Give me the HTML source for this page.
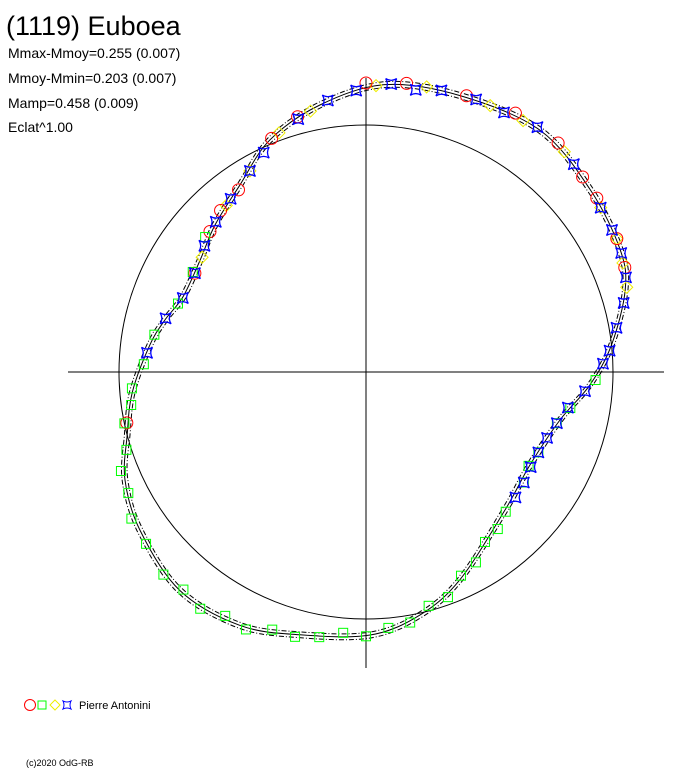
<!DOCTYPE html>
<html><head><meta charset="utf-8"><style>
body{margin:0;background:#fff;width:688px;height:768px;overflow:hidden;font-family:"Liberation Sans",sans-serif}
svg{display:block}
</style></head><body>
<svg id="chart" width="688" height="768" viewBox="0 0 688 768">
<text x="6" y="35" font-size="27" fill="#000">(1119) Euboea</text>
<text x="8" y="58" font-size="14" fill="#000">Mmax-Mmoy=0.255 (0.007)</text>
<text x="8" y="83" font-size="14" fill="#000">Mmoy-Mmin=0.203 (0.007)</text>
<text x="8" y="108" font-size="14" fill="#000">Mamp=0.458 (0.009)</text>
<text x="8" y="132" font-size="14" fill="#000">Eclat^1.00</text>
<line x1="68" y1="372" x2="664" y2="372" stroke="#000" stroke-width="1"/>
<line x1="366" y1="78" x2="366" y2="668" stroke="#000" stroke-width="1"/>
<circle cx="366" cy="372" r="247" fill="none" stroke="#000" stroke-width="1"/>
<g id="fit"></g>
<g id="obs"></g>
<g>
<circle cx="30" cy="705" r="5.5" fill="none" stroke="red"/>
<rect x="38" y="701" width="8" height="8" fill="none" stroke="#0f0"/>
<path d="M55 700 L60 705 L55 710 L50 705 Z" fill="none" stroke="#ee0"/>
<path d="M63 701 Q67 703 71 701 Q69 705 71 709 Q67 707 63 709 Q65 705 63 701 Z" fill="none" stroke="#00f"/>
<text x="79" y="709" font-size="11" fill="#000">Pierre Antonini</text>
</g>
<text x="26" y="766" font-size="9" fill="#000">(c)2020 OdG-RB</text>
</svg>
<script>
const CX=366, CY=372, R0=247;
const fitAngles=[3.8,18.7,35.7,50.9,64.3,72.4,83.7,93.3,103.9,119.6,134.8,155.7,167.5,179.1,194.1,206.5,220.5,235,245.9,255.2,265,277.1,284.5,292.3,304,314.2,326,337.5,350.2];
const fitRadii=[1.166,1.182,1.206,1.170,1.142,1.101,1.0,0.908,0.809,0.763,0.793,0.923,1.008,1.065,1.097,1.146,1.162,1.117,1.069,1.0,0.95,0.882,0.841,0.801,0.81,0.853,0.913,1.017,1.097];
const greenAng=[92,100,105,115,120,125,135,140,145,150,155,160,165,170,175,180,185,190,195,200,205,210,215,220,225,232,238,243,248,252,258,262,266,272,280,290,300,310];
const greenRad=[0.93,0.84,0.80,0.77,0.76,0.78,0.80,0.83,0.84,0.89,0.91,0.97,0.98,1.03,1.04,1.07,1.06,1.09,1.11,1.11,1.15,1.14,1.17,1.15,1.16,1.13,1.12,1.08,1.07,1.02,1.0,0.96,0.95,0.90,0.87,0.81,0.81,0.85];
const blueAng=[5,10,15,22,28,35,45,55,60,65,70,75,80,85,88,95,100,105,110,115,120,125,130,275,285,292,300,308,315,322,330,335,345,352,358];
const blueRad=[1.17,1.16,1.18,1.19,1.19,1.21,1.19,1.16,1.15,1.14,1.12,1.08,1.03,0.99,0.96,0.89,0.83,0.80,0.78,0.77,0.77,0.78,0.79,0.89,0.84,0.80,0.80,0.83,0.86,0.89,0.94,0.98,1.06,1.11,1.14];
const redAng=[0,8,20,30,40,48,53,62,68,258,300,312,318,325,338,345];
const redRad=[1.17,1.18,1.19,1.21,1.21,1.18,1.17,1.15,1.13,0.99,0.80,0.85,0.88,0.90,1.02,1.07];
const yellowAng=[2,12,25,32,42,55,62,67,72,305,320,330,340,348];
const yellowRad=[1.16,1.18,1.19,1.20,1.20,1.16,1.15,1.13,1.11,0.81,0.88,0.94,1.03,1.08];
const NS="http://www.w3.org/2000/svg";
function px(a,r){const t=a*Math.PI/180;return [CX+R0*r*Math.sin(t),CY-R0*r*Math.cos(t)];}
function curvePath(off){
  const pts=fitAngles.map((a,i)=>px(a,fitRadii[i]+off));const n=pts.length;
  let d=`M${pts[0][0]},${pts[0][1]}`;
  for(let i=0;i<n;i++){const p0=pts[(i-1+n)%n],p1=pts[i],p2=pts[(i+1)%n],p3=pts[(i+2)%n];
    d+=` C${p1[0]+(p2[0]-p0[0])/6},${p1[1]+(p2[1]-p0[1])/6} ${p2[0]-(p3[0]-p1[0])/6},${p2[1]-(p3[1]-p1[1])/6} ${p2[0]},${p2[1]}`;}
  return d+'Z';
}
const fit=document.getElementById('fit');
[[0,'none','fit-curve'],[0.012,'5,2,1,2','fit-upper-bound'],[-0.012,'5,2,1,2','fit-lower-bound']].forEach(([o,da,nm])=>{
  const p=document.createElementNS(NS,'path');
  p.setAttribute('d',curvePath(o));p.setAttribute('fill','none');p.setAttribute('stroke','#000');p.setAttribute('stroke-width','1');
  if(da!=='none')p.setAttribute('stroke-dasharray',da);
  
  
  fit.appendChild(p);
});
const obs=document.getElementById('obs');
function mark(type,a,r){
  const [x,y]=px(a,r);let e;
  if(type==='circle'){e=document.createElementNS(NS,'circle');e.setAttribute('cx',x);e.setAttribute('cy',y);e.setAttribute('r',6);e.setAttribute('stroke','red');}
  else if(type==='square'){e=document.createElementNS(NS,'rect');e.setAttribute('x',x-4.5);e.setAttribute('y',y-4.5);e.setAttribute('width',9);e.setAttribute('height',9);e.setAttribute('stroke','#0f0');}
  else if(type==='diamond'){e=document.createElementNS(NS,'path');e.setAttribute('d',`M${x} ${y-6}L${x+6} ${y}L${x} ${y+6}L${x-6} ${y}Z`);e.setAttribute('stroke','#ee0');}
  else {e=document.createElementNS(NS,'path');e.setAttribute('d',`M${x-5.5} ${y-5.5}Q${x} ${y-2} ${x+5.5} ${y-5.5}Q${x+2} ${y} ${x+5.5} ${y+5.5}Q${x} ${y+2} ${x-5.5} ${y+5.5}Q${x-2} ${y} ${x-5.5} ${y-5.5}Z`);e.setAttribute('stroke','#00f');e.setAttribute('stroke-width','1.3');}
  e.setAttribute('fill','none');
  
  
  obs.appendChild(e);
}
yellowAng.forEach((a,i)=>mark('diamond',a,yellowRad[i]));
redAng.forEach((a,i)=>mark('circle',a,redRad[i]));
greenAng.forEach((a,i)=>mark('square',a,greenRad[i]));
blueAng.forEach((a,i)=>mark('star',a,blueRad[i]));
</script>
</body></html>
